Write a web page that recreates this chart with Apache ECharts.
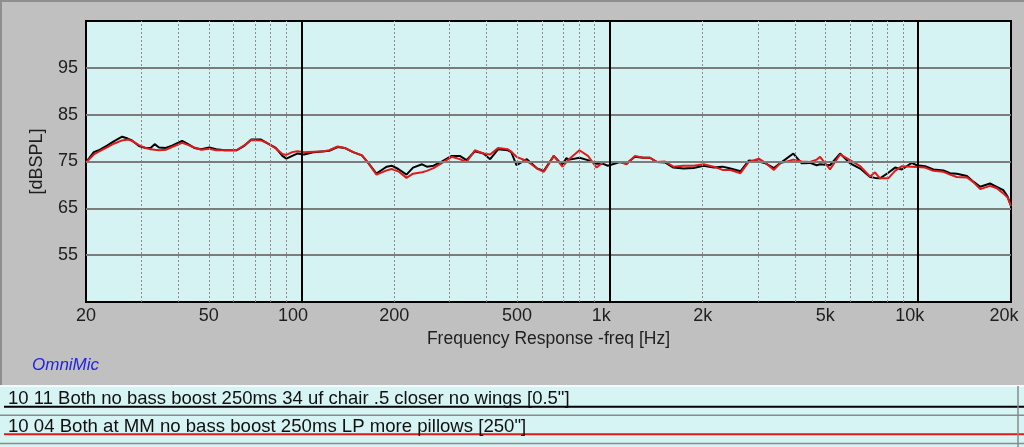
<!DOCTYPE html>
<html><head><meta charset="utf-8">
<script src="https://cdn.jsdelivr.net/npm/echarts@6/dist/echarts.min.js"></script>
<style>html,body{margin:0;padding:0;background:#c0c0c0}#c{width:1024px;height:447px}</style>
</head><body><div id="c"></div>
<script>
const freqs = [20, 21.2, 22, 23.4, 24.6, 26.2, 27.3, 28.2, 29.7, 31.2,
  32.4, 33.4, 34.5, 36.3, 38, 41, 42.6, 44.9, 47.3, 50.2,
  52.9, 56.3, 61.5, 65.4, 68.7, 73.7, 77.1, 82.5, 86.7, 89.3,
  93.3, 96.9, 101.9, 109.9, 118.6, 123, 131, 138, 147, 157,
  165, 175, 184, 189, 196, 206, 219, 230, 246, 255,
  268, 284, 307, 326, 343, 365, 389, 409, 434, 467,
  479, 498, 538, 581, 611, 658, 702, 722, 740, 797,
  849, 906, 952, 985, 1078, 1133, 1206, 1283, 1349, 1418,
  1510, 1607, 1733, 1869, 2014, 2172, 2320, 2460, 2652, 2822,
  3042, 3197, 3406, 3564, 3936, 4190, 4458, 4688, 4808, 5176,
  5580, 6012, 6486, 6982, 7244, 7516, 8000, 8414, 8852, 9528,
  9892, 10530, 11200, 12070, 12690, 13340, 14390, 15100, 15890, 17100,
  17990, 18880, 19500, 20000];
const blackDb = [74.8, 77.0, 77.4, 78.4, 79.3, 80.3, 79.9, 79.5, 78.3, 77.9,
  77.9, 78.7, 78.0, 77.9, 78.4, 79.4, 78.8, 77.9, 77.6, 78.0,
  77.6, 77.4, 77.4, 78.4, 79.7, 79.7, 79.0, 77.9, 76.2, 75.6,
  76.2, 76.7, 76.5, 77.0, 77.2, 77.3, 78.1, 77.9, 77.0, 76.3,
  74.6, 72.4, 73.4, 73.9, 74.1, 73.4, 72.2, 73.7, 74.4, 73.9,
  74.1, 74.9, 76.2, 76.2, 75.3, 77.2, 76.7, 75.5, 77.6, 77.4,
  77.0, 74.2, 75.5, 73.5, 73.0, 76.2, 74.2, 75.7, 75.4, 75.8,
  75.3, 74.5, 74.5, 74.1, 74.9, 74.6, 76.0, 75.8, 75.8, 74.9,
  74.8, 73.7, 73.5, 73.6, 74.1, 73.7, 73.9, 73.5, 72.9, 75.2,
  75.0, 74.6, 73.6, 74.6, 76.7, 74.6, 74.7, 74.2, 74.4, 74.2,
  76.7, 74.6, 73.5, 71.7, 71.5, 71.4, 72.6, 73.7, 73.3, 74.7,
  74.2, 74.0, 73.3, 73.1, 72.5, 72.4, 71.9, 70.7, 69.6, 70.3,
  69.6, 68.9, 67.5, 65.5];
const redDb = [74.8, 76.5, 77.1, 78.0, 78.8, 79.5, 79.7, 79.4, 78.5, 77.9,
  77.6, 77.5, 77.4, 77.5, 78.1, 79.0, 78.6, 78.0, 77.5, 77.7,
  77.4, 77.4, 77.4, 78.5, 79.6, 79.5, 79.0, 77.8, 76.6, 76.4,
  77.0, 77.2, 77.0, 77.1, 77.2, 77.4, 78.2, 77.9, 77.0, 76.3,
  74.6, 72.2, 72.8, 73.1, 73.4, 72.9, 71.5, 72.4, 72.7, 73.0,
  73.6, 74.6, 76.0, 75.5, 74.9, 77.4, 76.7, 76.5, 77.9, 77.6,
  77.1, 76.0, 75.1, 73.5, 72.8, 76.2, 73.9, 74.8, 75.6, 77.4,
  76.2, 73.7, 74.9, 74.9, 74.9, 74.4, 76.2, 75.8, 75.8, 74.9,
  75.0, 73.9, 74.1, 74.1, 74.4, 73.9, 73.2, 73.2, 72.5, 74.9,
  75.6, 74.7, 73.2, 74.6, 75.4, 75.0, 74.9, 75.4, 76.0, 73.3,
  76.5, 75.3, 74.0, 71.8, 72.7, 71.4, 71.4, 73.0, 74.0, 73.9,
  73.8, 73.7, 73.0, 72.8, 72.2, 71.7, 71.6, 70.6, 69.1, 69.8,
  69.3, 68.2, 67.3, 65.5];
const xTickFreqs = [20, 50, 100, 200, 500, 1000, 2000, 5000, 10000, 20000];
const majorFreqs = [100, 1000, 10000];
const minorFreqs = [30, 40, 50, 60, 70, 80, 90, 200, 300, 400, 500, 600, 700, 800, 900,
  2000, 3000, 4000, 5000, 6000, 7000, 8000, 9000];
const yGridValues = [55, 65, 75, 85, 95];
const seriesNames = ['10 11 Both no bass boost 250ms 34 uf chair .5 closer no wings [0.5"]',
  '10 04 Both at MM no bass boost 250ms LP more pillows [250"]'];
const seriesColors = ['#000000', '#e01a1a'];

const FONT = '"Liberation Sans", Arial, sans-serif';
const L = Math.log10;
const chart = echarts.init(document.getElementById('c'), null, {renderer: 'canvas'});

function fmtFreq(v) {
  const f = Math.round(Math.pow(10, v));
  const t = f >= 1000 ? (f / 1000) + 'k' : String(f);
  if (majorFreqs.includes(f)) return '{m|' + t + '}';
  if (f === xTickFreqs[xTickFreqs.length - 1]) return '{e|' + t + '}';
  return t;
}

const gridLines = [];
minorFreqs.forEach(f => gridLines.push({xAxis: L(f), lineStyle: {color: '#8c8c8c', width: 1, type: [2, 2]}}));
yGridValues.forEach(v => gridLines.push({yAxis: v, lineStyle: {color: '#7c7c7c', width: 2, type: 'solid'}}));
majorFreqs.forEach(f => gridLines.push({xAxis: L(f), lineStyle: {color: '#000000', width: 2, type: 'solid'}}));

const labelBase = {fontFamily: FONT, fontSize: 18, color: '#1e1e1e'};
const option = {
  animation: false,
  backgroundColor: '#c0c0c0',
  grid: {left: 86, right: 13, top: 21, bottom: 145, outerBoundsMode: 'none', containLabel: false,
    show: true, backgroundColor: '#d5f3f3', borderColor: '#000', borderWidth: 2},
  xAxis: {
    type: 'value', min: L(20), max: L(20000),
    name: 'Frequency Response -freq [Hz]', nameLocation: 'middle', nameGap: 25,
    nameTextStyle: {fontFamily: FONT, fontSize: 17.5, color: '#1e1e1e'},
    axisLine: {show: false}, axisTick: {show: false}, splitLine: {show: false},
    axisLabel: Object.assign({
      customValues: xTickFreqs.map(f => L(f)), formatter: fmtFreq, margin: 5, hideOverlap: false,
      rich: {
        m: Object.assign({padding: [0, 17, 0, 0]}, labelBase),
        e: Object.assign({padding: [0, 14, 0, 0]}, labelBase)
      }
    }, labelBase)
  },
  yAxis: {
    type: 'value', min: 45, max: 105, interval: 5,
    name: '[dBSPL]', nameLocation: 'middle', nameGap: 40, nameRotate: 90,
    nameTextStyle: {fontFamily: FONT, fontSize: 18, color: '#1e1e1e'},
    axisLine: {show: false}, axisTick: {show: false}, splitLine: {show: false},
    axisLabel: Object.assign({formatter: v => yGridValues.includes(v) ? String(v) : '', margin: 8}, labelBase)
  },
  series: [
    {type: 'line', data: [], silent: true, z: 1,
      markLine: {silent: true, symbol: ['none', 'none'], label: {show: false}, animation: false, data: gridLines}},
    {name: seriesNames[0], type: 'line', z: 3, symbol: 'none', showSymbol: false,
      lineStyle: {color: seriesColors[0], width: 2}, itemStyle: {color: seriesColors[0]},
      data: freqs.map((f, i) => [L(f), blackDb[i]])},
    {name: seriesNames[1], type: 'line', z: 4, symbol: 'none', showSymbol: false,
      lineStyle: {color: seriesColors[1], width: 2}, itemStyle: {color: seriesColors[1]},
      data: freqs.map((f, i) => [L(f), redDb[i]])}
  ],
  graphic: {elements: [
    {type: 'rect', z: -10, silent: true, shape: {x: 0, y: 385, width: 1024, height: 62}, style: {fill: '#d7f4f4'}},
    {type: 'line', z: -9, silent: true, shape: {x1: 0, y1: 1, x2: 1024, y2: 1}, style: {stroke: '#8e8e8e', lineWidth: 2}},
    {type: 'line', z: -9, silent: true, shape: {x1: 1, y1: 0, x2: 1, y2: 385}, style: {stroke: '#8e8e8e', lineWidth: 2}},
    {type: 'line', z: -9, silent: true, shape: {x1: 0, y1: 386, x2: 1024, y2: 386}, style: {stroke: '#f4ffff', lineWidth: 1.5}},
    {type: 'line', z: 5, silent: true, shape: {x1: 4, y1: 406.7, x2: 1024, y2: 406.7}, style: {stroke: seriesColors[0], lineWidth: 2}},
    {type: 'line', z: 5, silent: true, shape: {x1: 0, y1: 415.3, x2: 1024, y2: 415.3}, style: {stroke: '#8a8a8a', lineWidth: 1.5}},
    {type: 'line', z: 5, silent: true, shape: {x1: 4, y1: 434.3, x2: 1024, y2: 434.3}, style: {stroke: seriesColors[1], lineWidth: 2}},
    {type: 'line', z: 5, silent: true, shape: {x1: 0, y1: 443.5, x2: 1024, y2: 443.5}, style: {stroke: '#8a8a8a', lineWidth: 1.5}},
    {type: 'line', z: 5, silent: true, shape: {x1: 1018, y1: 386, x2: 1018, y2: 447}, style: {stroke: '#8a8a8a', lineWidth: 1.5}},
    {type: 'text', z: 6, silent: true, x: 32, y: 365, style: {text: 'OmniMic', fill: '#2323e0', font: 'italic 17px ' + FONT, textVerticalAlign: 'middle'}},
    {type: 'text', z: 6, silent: true, x: 8, y: 399, style: {text: seriesNames[0], fill: '#111', font: '18.5px ' + FONT, textVerticalAlign: 'middle'}},
    {type: 'text', z: 6, silent: true, x: 8, y: 427, style: {text: seriesNames[1], fill: '#111', font: '18.6px ' + FONT, textVerticalAlign: 'middle'}}
  ]}
};
chart.setOption(option);
</script>
</body></html>
